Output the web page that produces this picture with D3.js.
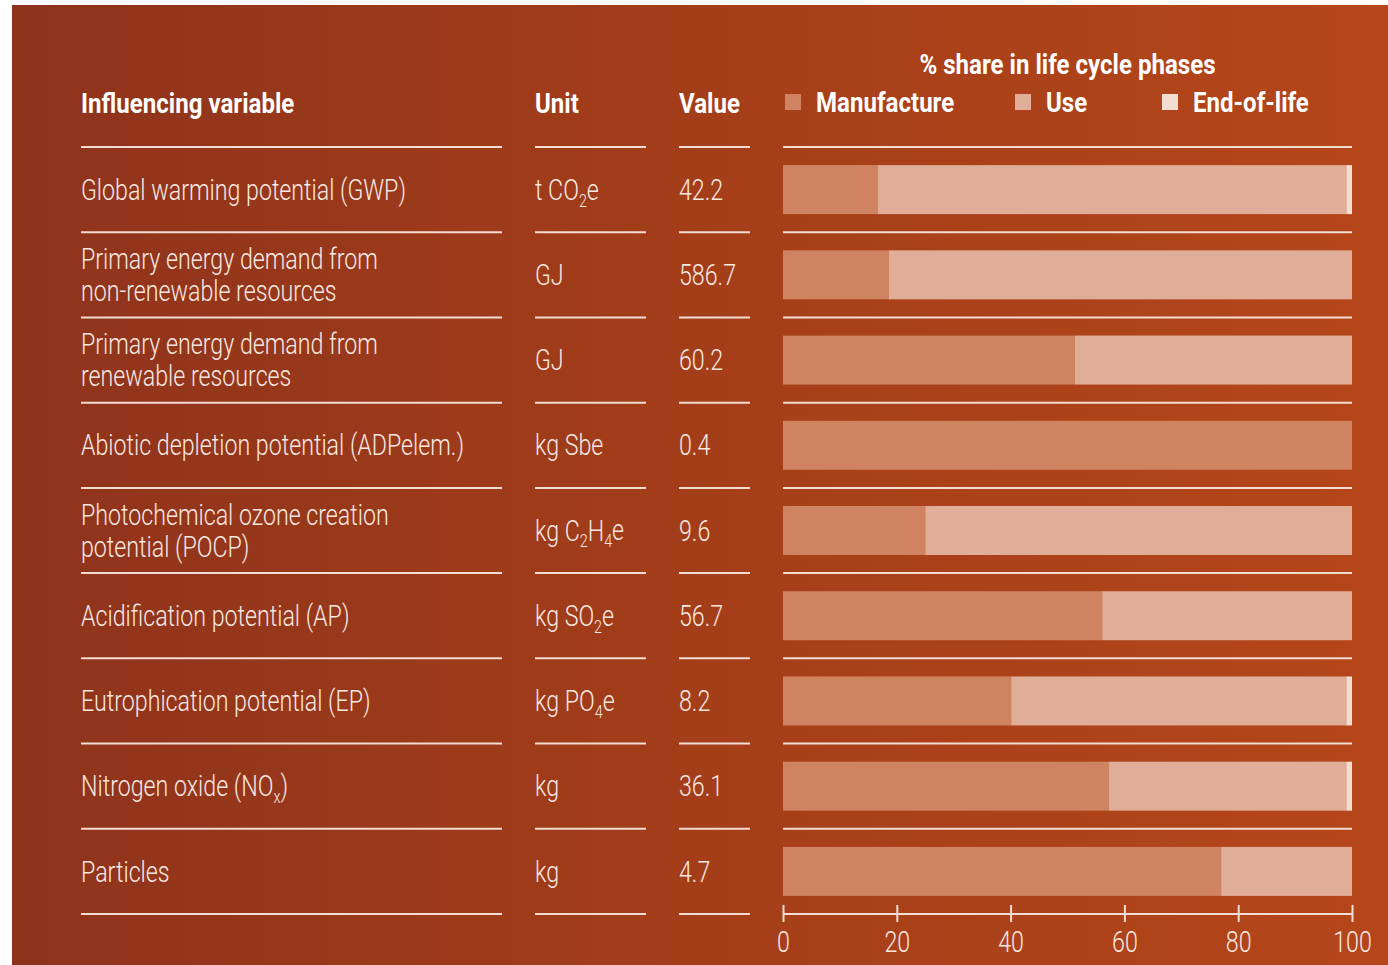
<!DOCTYPE html>
<html>
<head>
<meta charset="utf-8">
<script src="https://cdn.jsdelivr.net/npm/d3@7"></script>
<style>
  html, body { margin: 0; padding: 0; background: #fff; }
  svg { display: block; }
  text { font-family: Roboto, "DejaVu Sans", sans-serif; font-weight: 300; fill: #f7e8e1; }
  text.bold { font-weight: 700; fill: #fff; }
</style>
</head>
<body>
<svg id="chart" width="1388" height="965"></svg>
<script>
// row labels (each entry is a list of lines)
const variables = [
  ['Global warming potential (GWP)'],
  ['Primary energy demand from', 'non-renewable resources'],
  ['Primary energy demand from', 'renewable resources'],
  ['Abiotic depletion potential (ADPelem.)'],
  ['Photochemical ozone creation', 'potential (POCP)'],
  ['Acidification potential (AP)'],
  ['Eutrophication potential (EP)'],
  ['Nitrogen oxide (NO|x|)'],
  ['Particles']
];
// units, |..| marks a subscript
const units = ['t CO|2|e', 'GJ', 'GJ', 'kg Sbe', 'kg C|2|H|4|e', 'kg SO|2|e', 'kg PO|4|e', 'kg', 'kg'];
const values = ['42.2', '586.7', '60.2', '0.4', '9.6', '56.7', '8.2', '36.1', '4.7'];

// % share per life cycle phase
const phases = ['Manufacture', 'Use', 'End-of-life'];
const manufacture = [16.7, 18.6, 51.3, 100, 25.0, 56.1, 40.1, 57.3, 77.0];
const use = [82.3, 81.4, 48.7, 0, 75.0, 43.9, 58.9, 41.7, 23.0];
const endOfLife = [1.0, 0, 0, 0, 0, 0, 1.0, 1.0, 0];
const ticks = [0, 20, 40, 60, 80, 100];

const colors = ['#d08361', '#e0ad98', '#f2ddd3'];
const lineColor = '#f2ddd3';
// horizontal squeeze, the source uses a condensed face
const sx = 0.8;
const sxBold = 0.86;

const svg = d3.select('#chart');

// background
const grad = svg.append('defs').append('linearGradient')
  .attr('id', 'bg').attr('x1', 0).attr('x2', 1).attr('y1', 0).attr('y2', 0);
grad.append('stop').attr('offset', '0%').attr('stop-color', '#8e331c');
grad.append('stop').attr('offset', '55%').attr('stop-color', '#a63f19');
grad.append('stop').attr('offset', '100%').attr('stop-color', '#b5461a');
svg.append('rect')
  .attr('x', 12).attr('y', 5)
  .attr('width', 1376).attr('height', 960)
  .attr('fill', 'url(#bg)');

const tableTop = 147, tableBottom = 914;
const y = d3.scaleBand()
  .domain(d3.range(variables.length))
  .range([tableTop, tableBottom]);
const rowMid = i => y(i) + y.bandwidth() / 2;

const x = d3.scaleLinear().domain([0, 100]).range([783, 1352]);

const cols = [
  {x0: 81, x1: 502},
  {x0: 535, x1: 646},
  {x0: 679, x1: 750},
  {x0: 783, x1: 1352}
];

// condensed text placed at (px, py)
function label(parent, px, py, size, bold) {
  return parent.append('g')
    .attr('transform', `translate(${px},${py}) scale(${bold ? sxBold : sx},1)`)
    .append('text')
    .attr('class', bold ? 'bold' : null)
    .attr('font-size', size);
}

// writes text with |..| sections as subscripts
function richText(sel, str) {
  str.split('|').forEach((part, k) => {
    if (!part) return;
    const t = sel.append('tspan').text(part);
    if (k % 2 === 1) {
      t.attr('font-size', '0.62em').attr('dy', '0.38em');
    } else if (k > 0) {
      t.attr('dy', '-0.24em');
    }
  });
}

// headers
const head = svg.append('g');
label(head, 81, 113, 28, true).text('Influencing variable');
label(head, 535, 113, 28, true).text('Unit');
label(head, 679, 113, 28, true).text('Value');
label(head, x(50), 74, 28, true)
  .attr('text-anchor', 'middle').text('% share in life cycle phases');

const legendX = [785, 1015, 1162];
const legend = svg.append('g').selectAll('g')
  .data(phases).join('g')
  .attr('transform', (d, i) => `translate(${legendX[i]},94)`);
legend.append('rect')
  .attr('width', 16).attr('height', 16)
  .attr('fill', (d, i) => colors[i]);
legend.each(function (d) {
  label(d3.select(this), 31, 18, 28, true).text(d);
});

// separator lines
const seps = d3.range(variables.length).map(i => y(i)).concat([tableBottom]);
cols.forEach((c, ci) => {
  svg.append('g').selectAll('line')
    .data(ci === 3 ? seps.slice(0, -1) : seps)
    .join('line')
    .attr('x1', c.x0).attr('x2', c.x1)
    .attr('y1', d => d).attr('y2', d => d)
    .attr('stroke', lineColor).attr('stroke-width', 2);
});

// row texts
const rows = svg.append('g');
variables.forEach((lines, i) => {
  const t = label(rows, 81, rowMid(i) - (lines.length - 1) * 16, 29);
  lines.forEach((ln, k) => {
    const part = t.append('tspan').attr('x', 0).attr('dy', k === 0 ? '0.35em' : 32);
    richText(part, ln);
  });
  richText(label(rows, 535, rowMid(i), 29).attr('dy', '0.35em'), units[i]);
  label(rows, 679, rowMid(i), 29).attr('dy', '0.35em').text(values[i]);
});

// stacked bars
const table = variables.map((v, i) => ({
  Manufacture: manufacture[i], Use: use[i], 'End-of-life': endOfLife[i], idx: i
}));
const stack = d3.stack().keys(phases)(table);
svg.append('g').selectAll('g')
  .data(stack).join('g')
  .attr('fill', (d, i) => colors[i])
  .selectAll('rect')
  .data(d => d.filter(s => s[1] > s[0]))
  .join('rect')
  .attr('x', d => x(d[0]))
  .attr('width', d => x(d[1]) - x(d[0]))
  .attr('y', d => rowMid(d.data.idx) - 24.5)
  .attr('height', 49);

// axis
const axis = svg.append('g')
  .attr('transform', 'translate(0,905)')
  .call(d3.axisBottom(x).tickValues(ticks).tickSize(17).tickPadding(9));
axis.select('.domain').remove();
axis.selectAll('.tick line').attr('stroke', lineColor).attr('stroke-width', 2);
axis.selectAll('.tick text')
  .attr('font-family', 'Roboto, sans-serif')
  .attr('font-size', 29).attr('fill', '#f7e8e1')
  .attr('transform', `scale(${sx},1)`);
svg.append('line')
  .attr('x1', x(0)).attr('x2', x(100))
  .attr('y1', tableBottom).attr('y2', tableBottom)
  .attr('stroke', lineColor).attr('stroke-width', 2);
</script>
</body>
</html>
